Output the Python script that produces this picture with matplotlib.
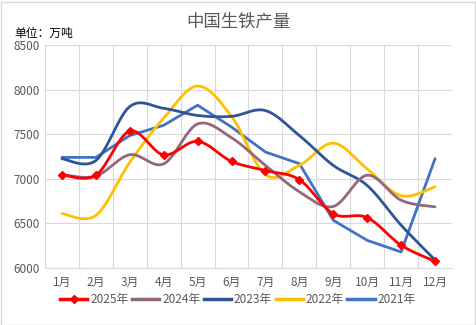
import numpy as np
import matplotlib
matplotlib.use("Agg")
import matplotlib.pyplot as plt
from matplotlib.lines import Line2D

plt.rcParams['font.family'] = ['Noto Sans CJK SC', 'DejaVu Sans']

months = ["1月", "2月", "3月", "4月", "5月", "6月", "7月", "8月", "9月", "10月", "11月", "12月"]
y2025 = [7045, 7040, 7535, 7268, 7420, 7195, 7093, 6990, 6608, 6565, 6255, 6075]
y2024 = [7045, 7030, 7270, 7168, 7615, 7460, 7150, 6855, 6690, 7040, 6760, 6685]
y2023 = [7225, 7205, 7810, 7790, 7710, 7700, 7765, 7485, 7150, 6925, 6480, 6090]
y2022 = [6610, 6590, 7185, 7680, 8040, 7700, 7045, 7150, 7400, 7110, 6810, 6910]
y2021 = [7240, 7240, 7485, 7600, 7825, 7580, 7300, 7170, 6535, 6310, 6180, 7225]

series = [
    ("2025年", y2025, "#FF0000", True, True),
    ("2024年", y2024, "#93677F", True, False),
    ("2023年", y2023, "#2F5597", True, False),
    ("2022年", y2022, "#FFC000", True, False),
    ("2021年", y2021, "#4472C4", False, False),
]


def smooth(x, y, n=24):
    x = np.asarray(x, float)
    y = np.asarray(y, float)
    px = np.concatenate([[x[0]], x, [x[-1]]])
    py = np.concatenate([[y[0]], y, [y[-1]]])
    xs, ys = [], []
    t = np.linspace(0, 1, n)
    for i in range(1, len(px) - 2):
        p0x, p1x, p2x, p3x = px[i - 1], px[i], px[i + 1], px[i + 2]
        p0y, p1y, p2y, p3y = py[i - 1], py[i], py[i + 1], py[i + 2]
        c1x = p1x + (p2x - p0x) / 6
        c1y = p1y + (p2y - p0y) / 6
        c2x = p2x - (p3x - p1x) / 6
        c2y = p2y - (p3y - p1y) / 6
        bx = (1 - t) ** 3 * p1x + 3 * (1 - t) ** 2 * t * c1x + 3 * (1 - t) * t ** 2 * c2x + t ** 3 * p2x
        by = (1 - t) ** 3 * p1y + 3 * (1 - t) ** 2 * t * c1y + 3 * (1 - t) * t ** 2 * c2y + t ** 3 * p2y
        xs.extend(bx if i == 1 else bx[1:])
        ys.extend(by if i == 1 else by[1:])
    return np.array(xs), np.array(ys)


fig = plt.figure(figsize=(4.76, 3.25), dpi=100)
ax = fig.add_axes([45 / 476, 1 - 268 / 325, (452 - 45) / 476, (268 - 45) / 325])

x = np.arange(1, 13)
handles = []
for label, vals, color, sm, marker in reversed(series):
    if sm:
        sx, sy = smooth(x, vals)
    else:
        sx, sy = x, np.asarray(vals, float)
    ax.plot(sx, sy, color=color, lw=2.0, solid_capstyle='round', zorder=3)
    if marker:
        ax.plot(x, vals, linestyle='none', marker='D', ms=4.5, color=color, zorder=4)

for label, vals, color, sm, marker in series:
    handles.append(Line2D([0], [0], color=color, lw=2.5,
                          marker='D' if marker else None, ms=4.5))

ax.set_xlim(0.5, 12.5)
ax.set_ylim(6000, 8500)
ax.set_yticks([6000, 6500, 7000, 7500, 8000, 8500])
ax.set_xticks(x)
ax.set_xticklabels(months)
ax.set_xticks(np.arange(0.5, 13, 1), minor=True)
ax.grid(False)
ax.grid(True, which='minor', axis='x', color='#D9D9D9', lw=0.8)
ax.grid(True, which='major', axis='y', color='#D9D9D9', lw=0.8)
ax.set_axisbelow(True)
ax.tick_params(axis='both', which='both', length=0, colors='#595959', labelsize=8.5)
ax.tick_params(axis='x', pad=6)
for s in ['top', 'right', 'left']:
    ax.spines[s].set_visible(False)
ax.spines['bottom'].set_color('#D9D9D9')

fig.text(0.5, 1 - 22 / 325, "中国生铁产量", ha='center', va='center', fontsize=12.5, color='#595959')
fig.text(14 / 476, 1 - 33 / 325, "单位：万吨", ha='left', va='center', fontsize=8.5, color='black')

leg = fig.legend(handles, [s[0] for s in series], loc='center', bbox_to_anchor=(0.5, 1 - 300 / 325),
                 ncol=5, frameon=False, fontsize=8.5, handlelength=2.3, columnspacing=0.3,
                 handletextpad=0.25, borderaxespad=0)
for t in leg.get_texts():
    t.set_color('#595959')

fig.patches.append(plt.Rectangle((0.5 / 476, 0.5 / 325), 474 / 476, 323 / 325, transform=fig.transFigure,
                                 fill=False, edgecolor='#D9D9D9', lw=1))

fig.savefig("out.png", dpi=100)
